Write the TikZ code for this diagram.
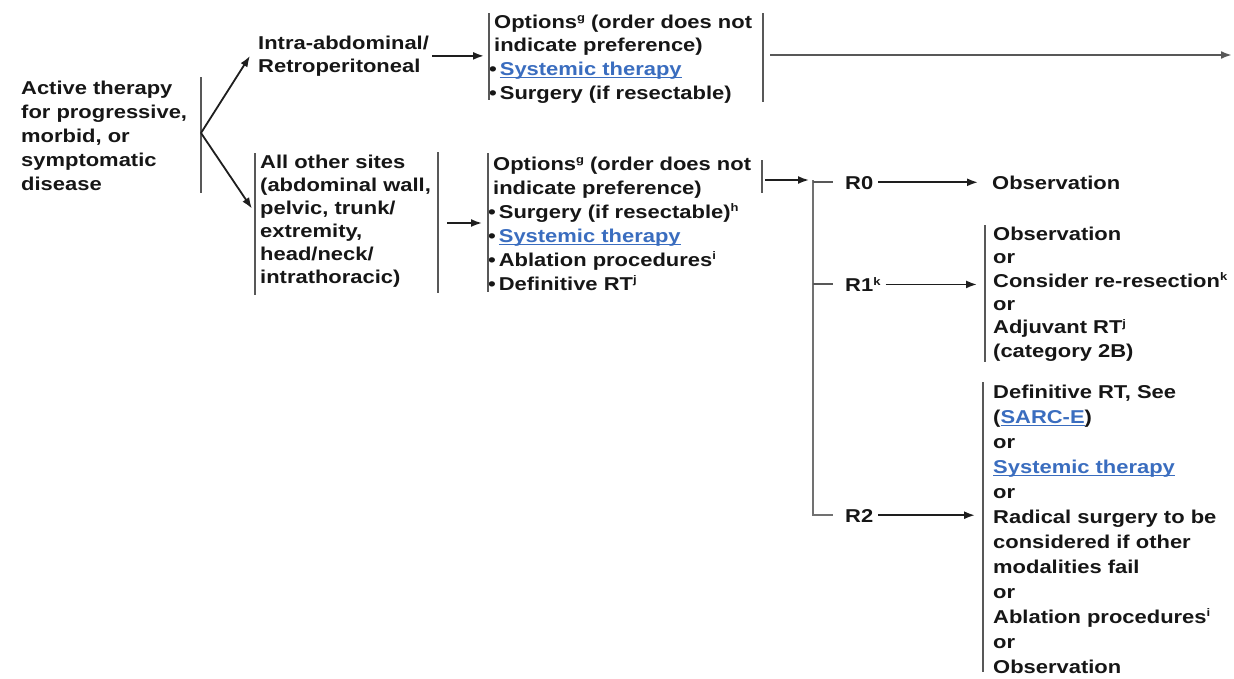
\documentclass[tikz,border=0pt]{standalone}
\usepackage{fontspec}
\usetikzlibrary{arrows.meta}
\newfontfamily\chartfont{Liberation Sans}[FakeStretch=1.18]
\definecolor{ink}{HTML}{161616}
\definecolor{barc}{HTML}{585858}
\definecolor{arrc}{HTML}{1E1E1E}
\definecolor{linkblue}{HTML}{3A6DBF}
% small raised footnote letter
\newcommand\supx[1]{\raisebox{6.5pt}{\fontsize{11}{11}\selectfont #1}}
% underlined blue cross-reference
\newcommand\lnk[1]{\textcolor{linkblue}{\setbox0\hbox{#1}\rlap{\rule[-3pt]{\wd0}{1.1pt}}\box0}}
% fixed first-line ascent so node tops are predictable
\newcommand\fl{\rule{0pt}{14pt}}
% bullet hanging onto the bracket bar
\newcommand\bul{\hspace*{-5pt}•\hspace{3pt}}
\begin{document}
\begin{tikzpicture}[x=1pt,y=-1pt,
  txt/.style={anchor=north west, inner sep=0pt, align=left, text=ink,
    font=\chartfont\bfseries\fontsize{18.6}{#1}\selectfont},
  txt/.default=23.6,
  bar/.style={draw=barc, line width=1.9pt},
  arr/.style={draw=arrc, line width=1.8pt, -{Latex[length=11pt,width=8pt]}}]
\fill[white] (0,0) rectangle (1234,678);
\useasboundingbox (0,0) rectangle (1234,678);

% text blocks
\node[txt=24] (act) at (21,80) {\fl Active therapy\\for progressive,\\morbid, or\\symptomatic\\disease};
\node[txt=23.5] (intra) at (258,35) {\fl Intra-abdominal/\\Retroperitoneal};
\node[txt=23.6] (opt1) at (494,14) {\fl Options\supx{g} (order does not\\indicate preference)\\\bul\lnk{Systemic therapy}\\\bul Surgery (if resectable)};
\node[txt=23] (oth) at (260,154) {\fl All other sites\\(abdominal wall,\\pelvic, trunk/\\extremity,\\head/neck/\\intrathoracic)};
\node[txt=24] (opt2) at (493,156) {\fl Options\supx{g} (order does not\\indicate preference)\\\bul Surgery (if resectable)\supx{h}\\\bul\lnk{Systemic therapy}\\\bul Ablation procedures\supx{i}\\\bul Definitive RT\supx{j}};
\node[txt] (r0) at (845,175) {\fl R0};
\node[txt] (r1) at (845,277) {\fl R1\supx{k}};
\node[txt] (r2) at (845,508) {\fl R2};
\node[txt] (obs0) at (992,175) {\fl Observation};
\node[txt=23.4] (r1box) at (993,226) {\fl Observation\\or\\Consider re-resection\supx{k}\\or\\Adjuvant RT\supx{j}\\(category 2B)};
\node[txt=25] (r2box) at (993,384) {\fl Definitive RT, See\\(\lnk{SARC-E})\\or\\\lnk{Systemic therapy}\\or\\Radical surgery to be\\considered if other\\modalities fail\\or\\Ablation procedures\supx{i}\\or\\Observation};

% bracket bars
\coordinate (fork) at (201,133);
\draw[bar] (201,77) -- (201,193);
\draw[bar] (489,13) -- (489,100);
\draw[bar] (763,13) -- (763,102);
\draw[bar] (255,153) -- (255,295);
\draw[bar] (438,152) -- (438,293);
\draw[bar] (488,153) -- (488,292);
\draw[bar] (762,160) -- (762,193);
\draw[bar] (985,225) -- (985,362);
\draw[bar] (983,382) -- (983,672);
\draw[bar, line width=2.6pt, draw=barc!85] (813,180) -- (813,515) -- (833,515);
\draw[bar, line width=1.7pt] (813,182) -- (833,182);
\draw[bar, line width=1.7pt] (813,284) -- (833,284);

% connectors
\coordinate (out1) at (770,55);
\coordinate (end1) at (1232,55);
\coordinate (out2) at (447,223);
\coordinate (out3) at (765,180);
\coordinate (rin) at (809,180);
\draw[arr] (fork) -- ([xshift=-8pt]intra.west);
\draw[arr] (fork) -- ([xshift=-8pt,yshift=12pt]oth.west);
\draw[arr] ([xshift=3pt]intra.east) -- ([xshift=-10pt]intra.east -| opt1.west);
\draw[arr, draw=barc, line width=2.4pt] (out1) -- (end1);
\draw[arr] (out2) -- ([xshift=-11pt]out2 -| opt2.west);
\draw[arr] (out3) -- (rin);
\draw[arr] ([xshift=5pt]r0.east) -- ([xshift=-14pt]obs0.west);
\draw[arr] ([xshift=5pt]r1.east) -- ([xshift=-16pt]r1.east -| r1box.west);
\draw[arr] ([xshift=5pt]r2.east) -- ([xshift=-18pt]r2.east -| r2box.west);
\end{tikzpicture}
\end{document}
